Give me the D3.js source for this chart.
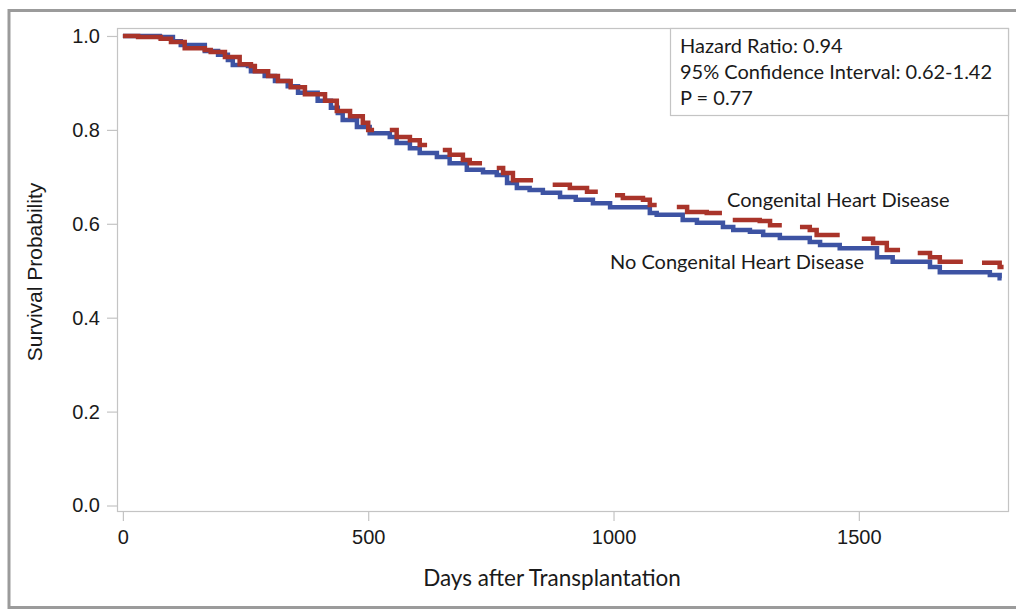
<!DOCTYPE html>
<html><head><meta charset="utf-8">
<script src="https://cdn.jsdelivr.net/npm/d3@7"></script>
<style>
html,body{margin:0;padding:0;background:#fff;}
svg{display:block;}
</style></head>
<body>
<svg id="chart" width="1016" height="610"></svg>
<script>
// ---- data ----
const xTicks = [0, 500, 1000, 1500];
const yTicks = [0.0, 0.2, 0.4, 0.6, 0.8, 1.0];
const xTitle = "Days after Transplantation";
const yTitle = "Survival Probability";
const statsLines = ["Hazard Ratio: 0.94", "95% Confidence Interval: 0.62-1.42", "P = 0.77"];
const seriesNames = ["Congenital Heart Disease", "No Congenital Heart Disease"];

// No congenital heart disease: step points [day, survival]
const noChd = [
  [0,1.000],[75,0.998],[102,0.989],[118,0.981],[167,0.968],[194,0.960],[214,0.949],[224,0.938],
  [255,0.936],[261,0.925],[289,0.915],[310,0.904],[336,0.893],[357,0.879],[397,0.862],[424,0.847],
  [438,0.836],[448,0.821],[477,0.806],[503,0.793],[544,0.785],[558,0.772],[585,0.761],[605,0.751],
  [640,0.742],[666,0.729],[701,0.715],[734,0.710],[762,0.704],[783,0.687],[803,0.676],[829,0.672],
  [856,0.666],[891,0.657],[923,0.651],[958,0.644],[993,0.635],[1074,0.623],[1088,0.619],[1141,0.608],
  [1170,0.602],[1223,0.593],[1244,0.587],[1278,0.583],[1305,0.576],[1339,0.570],[1400,0.561],[1421,0.555],
  [1461,0.548],[1537,0.529],[1569,0.519],[1645,0.508],[1665,0.497],[1767,0.491],[1787,0.484],[1791,0.484]
];

// Congenital heart disease: drawn as separate step pieces [day, survival]
const chdSegments = [
  [[0,1.000],[31,0.998],[77,0.994],[98,0.987],[126,0.974],[167,0.970],[179,0.966],[208,0.955],
   [238,0.940],[261,0.936],[269,0.925],[296,0.915],[316,0.904],[342,0.891],[371,0.876],[412,0.862],
   [436,0.840],[463,0.829],[489,0.815],[500,0.800],[512,0.800]],
  [[544,0.800],[558,0.785],[585,0.778],[605,0.768],[620,0.768]],
  [[652,0.757],[666,0.747],[693,0.736],[707,0.729],[732,0.729]],
  [[762,0.719],[775,0.708],[795,0.693],[836,0.693]],
  [[876,0.683],[911,0.676],[946,0.668],[968,0.668]],
  [[1003,0.661],[1019,0.655],[1060,0.651],[1074,0.640],[1088,0.640]],
  [[1129,0.636],[1150,0.625],[1190,0.623],[1221,0.623]],
  [[1243,0.608],[1298,0.606],[1319,0.597],[1343,0.597]],
  [[1380,0.593],[1400,0.587],[1414,0.576],[1461,0.576]],
  [[1506,0.568],[1529,0.559],[1557,0.544],[1584,0.544]],
  [[1620,0.538],[1645,0.529],[1665,0.519],[1712,0.519]],
  [[1751,0.517],[1787,0.508],[1795,0.508]]
];

// ---- drawing ----
const svg = d3.select("#chart");
const plot = {left:117, top:28, right:1008, bottom:511};
const x = d3.scaleLinear().domain([-12, 1804]).range([plot.left, plot.right]);
const y = d3.scaleLinear().domain([-0.0117, 1.017]).range([plot.bottom, plot.top]);

const red = "#a9342a", blue = "#3d53a3", axisGray = "#c4c4c4", textCol = "#1a1a1a";

// outer frame
svg.append("rect").attr("x", 9).attr("y", 10.5).attr("width", 1030).attr("height", 597)
  .attr("fill", "none").attr("stroke", "#9b9b9b").attr("stroke-width", 3);

// plot area border
svg.append("rect").attr("x", plot.left + 0.5).attr("y", plot.top + 0.5)
  .attr("width", plot.right - plot.left).attr("height", plot.bottom - plot.top)
  .attr("fill", "none").attr("stroke", axisGray).attr("stroke-width", 1.2);

// axes
const xAxis = svg.append("g").attr("transform", `translate(0,${plot.bottom})`)
  .call(d3.axisBottom(x).tickValues(xTicks).tickSize(10).tickPadding(9).tickFormat(d3.format("d")));
const yAxis = svg.append("g").attr("transform", `translate(${plot.left},0)`)
  .call(d3.axisLeft(y).tickValues(yTicks).tickSize(10).tickPadding(7).tickFormat(d3.format(".1f")));
[xAxis, yAxis].forEach(g => {
  g.select(".domain").remove();
  g.selectAll("line").attr("stroke", axisGray).attr("stroke-width", 1.2);
  g.selectAll("text").attr("fill", textCol)
    .style("font-family", "'Liberation Sans', Arial, sans-serif").style("font-size", "20px");
});

// titles
svg.append("text").attr("x", 552).attr("y", 586).attr("text-anchor", "middle")
  .style("font-family", "Lato, 'Open Sans', sans-serif").style("font-size", "22.5px")
  .attr("fill", textCol).text(xTitle);
svg.append("text").attr("transform", "translate(42,272) rotate(-90)").attr("text-anchor", "middle")
  .style("font-family", "'Liberation Sans', Arial, sans-serif").style("font-size", "21px")
  .attr("fill", textCol).text(yTitle);

// curves
const step = d3.line().x(d => x(d[0])).y(d => y(d[1])).curve(d3.curveStepAfter);
svg.append("path").datum(noChd).attr("d", step).attr("fill", "none")
  .attr("stroke", blue).attr("stroke-width", 4.5);
svg.append("g").selectAll("path").data(chdSegments).join("path").attr("d", step)
  .attr("fill", "none").attr("stroke", red).attr("stroke-width", 4.5);

// curve labels
svg.append("text").attr("x", 727).attr("y", 207).attr("fill", textCol)
  .style("font-family", "Lato, 'Open Sans', sans-serif").style("font-size", "20px").text(seriesNames[0]);
svg.append("text").attr("x", 610).attr("y", 269).attr("fill", textCol)
  .style("font-family", "Lato, 'Open Sans', sans-serif").style("font-size", "20px").text(seriesNames[1]);

// stats box
svg.append("rect").attr("x", 670.5).attr("y", plot.top + 0.5).attr("width", plot.right - 670).attr("height", 87)
  .attr("fill", "#fff").attr("stroke", axisGray).attr("stroke-width", 1.2);
svg.append("g").selectAll("text").data(statsLines).join("text")
  .attr("x", 680).attr("y", (d, i) => 53 + i * 26).attr("fill", textCol)
  .style("font-family", "Lato, 'Open Sans', sans-serif").style("font-size", "20px").text(d => d);
</script>
</body></html>
